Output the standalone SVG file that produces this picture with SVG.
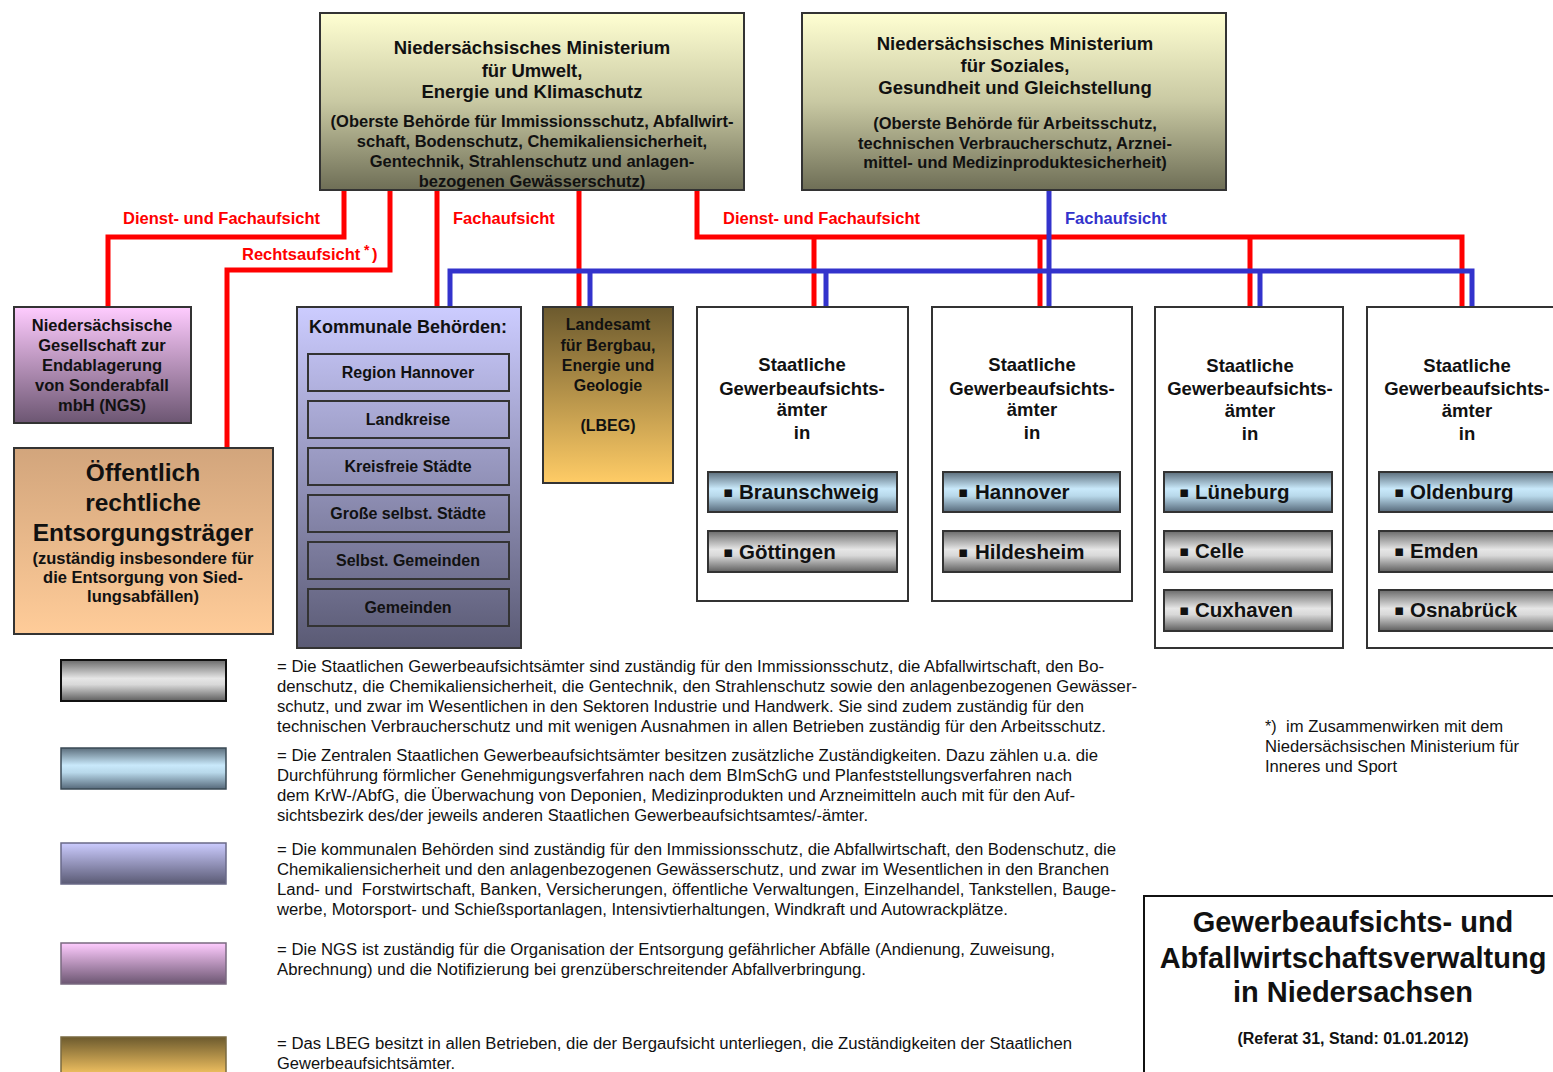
<svg xmlns="http://www.w3.org/2000/svg" width="1553" height="1072" viewBox="0 0 1553 1072">
<defs>
<linearGradient id="gMin" x1="0" y1="0" x2="0" y2="1"><stop offset="0" stop-color="#FFFFD2"/><stop offset="0.5" stop-color="#C9C9A3"/><stop offset="1" stop-color="#6E6E56"/></linearGradient>
<linearGradient id="gNgs" x1="0" y1="0" x2="0" y2="1"><stop offset="0" stop-color="#FFCCFF"/><stop offset="1" stop-color="#6C5672"/></linearGradient>
<linearGradient id="gOeff" x1="0" y1="0" x2="0" y2="1"><stop offset="0" stop-color="#D2A57C"/><stop offset="1" stop-color="#FFCC99"/></linearGradient>
<linearGradient id="gKom" x1="0" y1="0" x2="0" y2="1"><stop offset="0" stop-color="#CCCCFF"/><stop offset="1" stop-color="#5A5A74"/></linearGradient>
<linearGradient id="gLbeg" x1="0" y1="0" x2="0" y2="1"><stop offset="0" stop-color="#6C5A2E"/><stop offset="1" stop-color="#FFCC66"/></linearGradient>
<linearGradient id="gBlue" x1="0" y1="0" x2="0" y2="1"><stop offset="0" stop-color="#5C6E7C"/><stop offset="0.42" stop-color="#C9E9FB"/><stop offset="0.6" stop-color="#B8D8EA"/><stop offset="1" stop-color="#56697A"/></linearGradient>
<linearGradient id="gGray" x1="0" y1="0" x2="0" y2="1"><stop offset="0" stop-color="#6A6A6A"/><stop offset="0.45" stop-color="#E6E6E6"/><stop offset="0.6" stop-color="#D8D8D8"/><stop offset="1" stop-color="#5E5E5E"/></linearGradient>
</defs>
<style>
.b{font-family:'Liberation Sans',Arial,sans-serif;font-weight:bold;fill:#111}
.c{text-anchor:middle}
.n{font-family:'Liberation Sans Narrow','Liberation Sans',Arial,sans-serif;fill:#111;font-size:16px}
.box{stroke:#333;stroke-width:2}
.lr{stroke:#FF0000;stroke-width:5;fill:none}
.lb{stroke:#3333CC;stroke-width:5;fill:none}
.f16{font-size:16.5px}
.f18{font-size:18.5px}
.city{font-size:20.5px}
.bul{font-family:'DejaVu Sans',sans-serif;font-size:15px}
</style>
<rect width="1553" height="1072" fill="#FFFFFF"/>

<g id="connectors">
<path class="lr" d="M344,190 V237 H108 V307"/>
<path class="lr" d="M390,190 V270 H227 V448"/>
<path class="lr" d="M437,190 V307"/>
<path class="lr" d="M579,190 V307"/>
<path class="lr" d="M697,190 V237 H1462 V307"/>
<path class="lr" d="M814,237 V307 M1040,237 V307 M1250,237 V307"/>
<path class="lb" d="M450,307 V271 H1472 V307"/>
<path class="lb" d="M590,271 V307 M826,271 V307 M1260,271 V307"/>
<path class="lb" d="M1049,190 V307"/>
<text class="b f16" style="fill:#FF0000" x="123" y="224">Dienst- und Fachaufsicht</text>
<text class="b f16" style="fill:#FF0000" x="242" y="260">Rechtsaufsicht<tspan x="364" font-size="14" dy="-5">*</tspan><tspan x="372" dy="5">)</tspan></text>
<text class="b f16" style="fill:#FF0000" x="453" y="224">Fachaufsicht</text>
<text class="b f16" style="fill:#FF0000" x="723" y="224">Dienst- und Fachaufsicht</text>
<text class="b f16" style="fill:#3333CC" x="1065" y="224">Fachaufsicht</text>
</g>

<g id="mu">
<rect class="box" x="320" y="13" width="424" height="177" fill="url(#gMin)"/>
<text class="b c f18" x="532" y="53.5">Niedersächsisches Ministerium</text>
<text class="b c f18" x="532" y="76.5">für Umwelt,</text>
<text class="b c f18" x="532" y="97.5">Energie und Klimaschutz</text>
<text class="b c f16" x="532" y="127">(Oberste Behörde für Immissionsschutz, Abfallwirt-</text>
<text class="b c f16" x="532" y="147">schaft, Bodenschutz, Chemikaliensicherheit,</text>
<text class="b c f16" x="532" y="167">Gentechnik, Strahlenschutz und anlagen-</text>
<text class="b c f16" x="532" y="187">bezogenen Gewässerschutz)</text>
</g>

<g id="ms">
<rect class="box" x="802" y="13" width="424" height="177" fill="url(#gMin)"/>
<text class="b c f18" x="1015" y="49.5">Niedersächsisches Ministerium</text>
<text class="b c f18" x="1015" y="71.5">für Soziales,</text>
<text class="b c f18" x="1015" y="93.5">Gesundheit und Gleichstellung</text>
<text class="b c f16" x="1015" y="129">(Oberste Behörde für Arbeitsschutz,</text>
<text class="b c f16" x="1015" y="149">technischen Verbraucherschutz, Arznei-</text>
<text class="b c f16" x="1015" y="168">mittel- und Medizinproduktesicherheit)</text>
</g>

<g id="ngs">
<rect class="box" x="14" y="307" width="177" height="116" fill="url(#gNgs)"/>
<text class="b c f16" x="102" y="331">Niedersächsische</text>
<text class="b c f16" x="102" y="351">Gesellschaft zur</text>
<text class="b c f16" x="102" y="371">Endablagerung</text>
<text class="b c f16" x="102" y="391">von Sonderabfall</text>
<text class="b c f16" x="102" y="411">mbH (NGS)</text>
</g>

<g id="oerE">
<rect class="box" x="14" y="448" width="259" height="186" fill="url(#gOeff)"/>
<text class="b c" font-size="24.5" x="143" y="481">Öffentlich</text>
<text class="b c" font-size="24.5" x="143" y="511">rechtliche</text>
<text class="b c" font-size="24.5" x="143" y="541">Entsorgungsträger</text>
<text class="b c f16" x="143" y="564">(zuständig insbesondere für</text>
<text class="b c f16" x="143" y="583">die Entsorgung von Sied-</text>
<text class="b c f16" x="143" y="602">lungsabfällen)</text>
</g>

<g id="kommunal">
<rect class="box" x="297" y="307" width="224" height="341" fill="url(#gKom)"/>
<text class="b c" font-size="18" x="408" y="333">Kommunale Behörden:</text>
<g fill="none">
<rect class="box" x="308" y="354" width="201" height="37"/>
<rect class="box" x="308" y="401" width="201" height="37"/>
<rect class="box" x="308" y="448" width="201" height="37"/>
<rect class="box" x="308" y="495" width="201" height="37"/>
<rect class="box" x="308" y="542" width="201" height="37"/>
<rect class="box" x="308" y="589" width="201" height="37"/>
</g>
<text class="b c" font-size="16" x="408" y="378">Region Hannover</text>
<text class="b c" font-size="16" x="408" y="425">Landkreise</text>
<text class="b c" font-size="16" x="408" y="472">Kreisfreie Städte</text>
<text class="b c" font-size="16" x="408" y="519">Große selbst. Städte</text>
<text class="b c" font-size="16" x="408" y="566">Selbst. Gemeinden</text>
<text class="b c" font-size="16" x="408" y="613">Gemeinden</text>
</g>

<g id="lbeg">
<rect class="box" x="543" y="307" width="130" height="176" fill="url(#gLbeg)"/>
<text class="b c" font-size="16" x="608" y="330">Landesamt</text>
<text class="b c" font-size="16" x="608" y="351">für Bergbau,</text>
<text class="b c" font-size="16" x="608" y="371">Energie und</text>
<text class="b c" font-size="16" x="608" y="391">Geologie</text>
<text class="b c" font-size="16" x="608" y="431">(LBEG)</text>
</g>

<g id="gaa1">
<rect class="box" x="697" y="307" width="211" height="294" fill="#FFFFFF"/>
<text class="b c f18" x="802" y="370.5">Staatliche</text>
<text class="b c f18" x="802" y="394.5">Gewerbeaufsichts-</text>
<text class="b c f18" x="802" y="415.5">ämter</text>
<text class="b c f18" x="802" y="438.5">in</text>
<rect class="box" x="708" y="472" width="189" height="40" fill="url(#gBlue)"/>
<rect class="box" x="708" y="531" width="189" height="41" fill="url(#gGray)"/>
<text class="b city" x="723" y="499"><tspan class="bul" dy="-2">▪</tspan><tspan x="739" dy="2">Braunschweig</tspan></text>
<text class="b city" x="723" y="559"><tspan class="bul" dy="-2">▪</tspan><tspan x="739" dy="2">Göttingen</tspan></text>
</g>

<g id="gaa2">
<rect class="box" x="932" y="307" width="200" height="294" fill="#FFFFFF"/>
<text class="b c f18" x="1032" y="370.5">Staatliche</text>
<text class="b c f18" x="1032" y="394.5">Gewerbeaufsichts-</text>
<text class="b c f18" x="1032" y="415.5">ämter</text>
<text class="b c f18" x="1032" y="438.5">in</text>
<rect class="box" x="943" y="472" width="177" height="40" fill="url(#gBlue)"/>
<rect class="box" x="943" y="531" width="177" height="41" fill="url(#gGray)"/>
<text class="b city" x="958" y="499"><tspan class="bul" dy="-2">▪</tspan><tspan x="975" dy="2">Hannover</tspan></text>
<text class="b city" x="958" y="559"><tspan class="bul" dy="-2">▪</tspan><tspan x="975" dy="2">Hildesheim</tspan></text>
</g>

<g id="gaa3">
<rect class="box" x="1155" y="307" width="188" height="341" fill="#FFFFFF"/>
<text class="b c f18" x="1250" y="372">Staatliche</text>
<text class="b c f18" x="1250" y="395">Gewerbeaufsichts-</text>
<text class="b c f18" x="1250" y="417">ämter</text>
<text class="b c f18" x="1250" y="440">in</text>
<rect class="box" x="1164" y="472" width="168" height="40" fill="url(#gBlue)"/>
<rect class="box" x="1164" y="531" width="168" height="41" fill="url(#gGray)"/>
<rect class="box" x="1164" y="590" width="168" height="41" fill="url(#gGray)"/>
<text class="b city" x="1179" y="499"><tspan class="bul" dy="-2">▪</tspan><tspan x="1195" dy="2">Lüneburg</tspan></text>
<text class="b city" x="1179" y="558"><tspan class="bul" dy="-2">▪</tspan><tspan x="1195" dy="2">Celle</tspan></text>
<text class="b city" x="1179" y="617"><tspan class="bul" dy="-2">▪</tspan><tspan x="1195" dy="2">Cuxhaven</tspan></text>
</g>

<g id="gaa4">
<rect class="box" x="1367" y="307" width="220" height="341" fill="#FFFFFF"/>
<text class="b c f18" x="1467" y="372">Staatliche</text>
<text class="b c f18" x="1467" y="395">Gewerbeaufsichts-</text>
<text class="b c f18" x="1467" y="417">ämter</text>
<text class="b c f18" x="1467" y="440">in</text>
<rect class="box" x="1379" y="472" width="200" height="40" fill="url(#gBlue)"/>
<rect class="box" x="1379" y="531" width="200" height="41" fill="url(#gGray)"/>
<rect class="box" x="1379" y="590" width="200" height="41" fill="url(#gGray)"/>
<text class="b city" x="1394" y="499"><tspan class="bul" dy="-2">▪</tspan><tspan x="1410" dy="2">Oldenburg</tspan></text>
<text class="b city" x="1394" y="558"><tspan class="bul" dy="-2">▪</tspan><tspan x="1410" dy="2">Emden</tspan></text>
<text class="b city" x="1394" y="617"><tspan class="bul" dy="-2">▪</tspan><tspan x="1410" dy="2">Osnabrück</tspan></text>
</g>

<g id="legend">
<rect x="61" y="660" width="165" height="41" fill="url(#gGray)" stroke="#111" stroke-width="2"/>
<rect x="61" y="748" width="165" height="41" fill="url(#gBlue)" stroke="#3A4A55" stroke-width="1.5"/>
<rect x="61" y="843" width="165" height="41" fill="url(#gKom)" stroke="#6A6A88" stroke-width="1.5"/>
<rect x="61" y="943" width="165" height="41" fill="url(#gNgs)" stroke="#7A6A80" stroke-width="1.5"/>
<rect x="61" y="1037" width="165" height="41" fill="url(#gLbeg)" stroke="#7A6A40" stroke-width="1.5"/>
<g class="n">
<text x="277" y="672" textLength="827" lengthAdjust="spacingAndGlyphs">= Die Staatlichen Gewerbeaufsichtsämter sind zuständig für den Immissionsschutz, die Abfallwirtschaft, den Bo-</text>
<text x="277" y="692" textLength="860" lengthAdjust="spacingAndGlyphs">denschutz, die Chemikaliensicherheit, die Gentechnik, den Strahlenschutz sowie den anlagenbezogenen Gewässer-</text>
<text x="277" y="712" textLength="807" lengthAdjust="spacingAndGlyphs">schutz, und zwar im Wesentlichen in den Sektoren Industrie und Handwerk. Sie sind zudem zuständig für den</text>
<text x="277" y="732" textLength="829" lengthAdjust="spacingAndGlyphs">technischen Verbraucherschutz und mit wenigen Ausnahmen in allen Betrieben zuständig für den Arbeitsschutz.</text>
<text x="277" y="761" textLength="821" lengthAdjust="spacingAndGlyphs">= Die Zentralen Staatlichen Gewerbeaufsichtsämter besitzen zusätzliche Zuständigkeiten. Dazu zählen u.a. die</text>
<text x="277" y="781" textLength="795" lengthAdjust="spacingAndGlyphs">Durchführung förmlicher Genehmigungsverfahren nach dem BImSchG und Planfeststellungsverfahren nach</text>
<text x="277" y="801" textLength="798" lengthAdjust="spacingAndGlyphs">dem KrW-/AbfG, die Überwachung von Deponien, Medizinprodukten und Arzneimitteln auch mit für den Auf-</text>
<text x="277" y="821" textLength="591" lengthAdjust="spacingAndGlyphs">sichtsbezirk des/der jeweils anderen Staatlichen Gewerbeaufsichtsamtes/-ämter.</text>
<text x="277" y="855" textLength="839" lengthAdjust="spacingAndGlyphs">= Die kommunalen Behörden sind zuständig für den Immissionsschutz, die Abfallwirtschaft, den Bodenschutz, die</text>
<text x="277" y="875" textLength="832" lengthAdjust="spacingAndGlyphs">Chemikaliensicherheit und den anlagenbezogenen Gewässerschutz, und zwar im Wesentlichen in den Branchen</text>
<text x="277" y="895" textLength="839" lengthAdjust="spacingAndGlyphs" xml:space="preserve">Land- und  Forstwirtschaft, Banken, Versicherungen, öffentliche Verwaltungen, Einzelhandel, Tankstellen, Bauge-</text>
<text x="277" y="915" textLength="731" lengthAdjust="spacingAndGlyphs">werbe, Motorsport- und Schießsportanlagen, Intensivtierhaltungen, Windkraft und Autowrackplätze.</text>
<text x="277" y="955" textLength="778" lengthAdjust="spacingAndGlyphs">= Die NGS ist zuständig für die Organisation der Entsorgung gefährlicher Abfälle (Andienung, Zuweisung,</text>
<text x="277" y="975" textLength="589" lengthAdjust="spacingAndGlyphs">Abrechnung) und die Notifizierung bei grenzüberschreitender Abfallverbringung.</text>
<text x="277" y="1049" textLength="795" lengthAdjust="spacingAndGlyphs">= Das LBEG besitzt in allen Betrieben, die der Bergaufsicht unterliegen, die Zuständigkeiten der Staatlichen</text>
<text x="277" y="1069" textLength="178" lengthAdjust="spacingAndGlyphs">Gewerbeaufsichtsämter.</text>
<text x="1265" y="732">*)<tspan x="1286" textLength="217" lengthAdjust="spacingAndGlyphs">im Zusammenwirken mit dem</tspan></text>
<text x="1265" y="752" textLength="254" lengthAdjust="spacingAndGlyphs">Niedersächsischen Ministerium für</text>
<text x="1265" y="772" textLength="132" lengthAdjust="spacingAndGlyphs">Inneres und Sport</text>
</g>
</g>

<g id="title">
<rect x="1144" y="896" width="430" height="200" fill="#FFFFFF" stroke="#111" stroke-width="2"/>
<text class="b c" font-size="29" x="1353" y="932">Gewerbeaufsichts- und</text>
<text class="b c" font-size="29" x="1353" y="968">Abfallwirtschaftsverwaltung</text>
<text class="b c" font-size="29" x="1353" y="1002">in Niedersachsen</text>
<text class="b c" font-size="16" x="1353" y="1044">(Referat 31, Stand: 01.01.2012)</text>
</g>
</svg>
